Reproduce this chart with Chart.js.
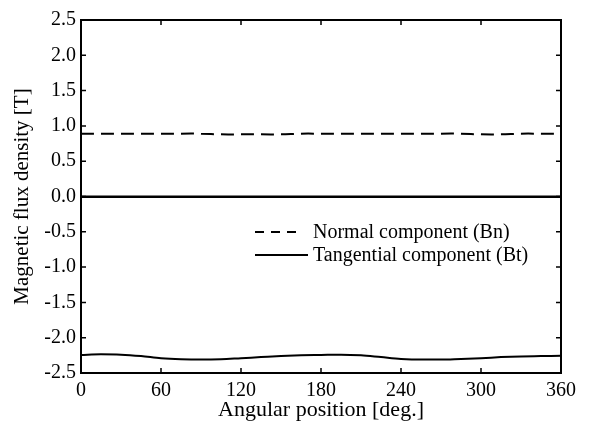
<!DOCTYPE html>
<html>
<head>
<meta charset="utf-8">
<script src="https://cdn.jsdelivr.net/npm/chart.js@4/dist/chart.umd.min.js"></script>
<style>
  body { margin: 0; background: #fff; }
  #wrap { width: 590px; height: 426px; }
</style>
</head>
<body>
<div id="wrap"><canvas id="fluxChart" width="590" height="426"></canvas></div>
<script>
// angular positions [deg.]
const angles = [0, 15, 30, 45, 60, 75, 90, 105, 120, 135, 150, 165, 180,
                195, 210, 225, 240, 255, 270, 285, 300, 315, 330, 345, 360];
// normal component (Bn) [T]
const normalBn = [0.89, 0.89, 0.89, 0.89, 0.89, 0.89, 0.89, 0.88, 0.88, 0.88, 0.88, 0.89, 0.89,
                  0.89, 0.89, 0.89, 0.89, 0.89, 0.89, 0.89, 0.88, 0.88, 0.89, 0.89, 0.89];
// tangential component (Bt) [T]
const tangentialBt = [0, 0, 0, 0, 0, 0, 0, 0, 0, 0, 0, 0, 0,
                      0, 0, 0, 0, 0, 0, 0, 0, 0, 0, 0, 0];
// lower solid trace near the bottom of the frame [T]
const lowerTrace = [-2.245, -2.235, -2.24, -2.26, -2.29, -2.305, -2.31, -2.305, -2.29, -2.275, -2.26, -2.25, -2.245,
                    -2.24, -2.25, -2.275, -2.30, -2.31, -2.31, -2.30, -2.29, -2.275, -2.265, -2.26, -2.255];
const xTicks = [0, 60, 120, 180, 240, 300, 360];
const yTicks = [-2.5, -2.0, -1.5, -1.0, -0.5, 0.0, 0.5, 1.0, 1.5, 2.0, 2.5];

const FONT = "'Liberation Serif', 'Times New Roman', serif";

function toPoints(ys) {
    return angles.map((a, i) => ({ x: a, y: ys[i] }));
}

// frame with inward ticks on all four sides
const framePlugin = {
    id: 'frame',
    afterDraw(chart) {
        const { ctx, chartArea: a, scales: { x, y } } = chart;
        const len = 5;
        ctx.save();
        ctx.strokeStyle = '#000';
        ctx.lineWidth = 2;
        ctx.strokeRect(a.left, a.top, a.right - a.left, a.bottom - a.top);
        ctx.lineWidth = 1.5;
        ctx.beginPath();
        xTicks.forEach(v => {
            const px = x.getPixelForValue(v);
            ctx.moveTo(px, a.bottom); ctx.lineTo(px, a.bottom - len);
            ctx.moveTo(px, a.top); ctx.lineTo(px, a.top + len);
        });
        yTicks.forEach(v => {
            const py = y.getPixelForValue(v);
            ctx.moveTo(a.left, py); ctx.lineTo(a.left + len, py);
            ctx.moveTo(a.right, py); ctx.lineTo(a.right - len, py);
        });
        ctx.stroke();
        ctx.restore();
    }
};

// legend inside the plot area
const legendPlugin = {
    id: 'insideLegend',
    afterDraw(chart) {
        const { ctx, chartArea: a } = chart;
        const x0 = a.left + 174;
        const rows = [
            { text: 'Normal component (Bn)', dash: [9, 7], y: a.top + 212, end: x0 + 48 },
            { text: 'Tangential component (Bt)', dash: [], y: a.top + 235, end: x0 + 53 }
        ];
        ctx.save();
        ctx.font = '20px ' + FONT;
        ctx.fillStyle = '#000';
        ctx.textBaseline = 'middle';
        rows.forEach(r => {
            ctx.strokeStyle = '#000';
            ctx.lineWidth = 2;
            ctx.setLineDash(r.dash);
            ctx.beginPath();
            ctx.moveTo(x0, r.y);
            ctx.lineTo(r.end, r.y);
            ctx.stroke();
            ctx.setLineDash([]);
            ctx.fillText(r.text, x0 + 58, r.y + 1);
        });
        ctx.restore();
    }
};

const ctx = document.getElementById('fluxChart').getContext('2d');
const fluxChart = new Chart(ctx, {
    type: 'line',
    data: {
        datasets: [
            {
                label: 'Normal component (Bn)',
                data: toPoints(normalBn),
                borderColor: '#000',
                borderWidth: 2,
                borderDash: [13, 7],
                pointRadius: 0,
                tension: 0.4
            },
            {
                label: 'Tangential component (Bt)',
                data: toPoints(tangentialBt),
                borderColor: '#000',
                borderWidth: 2,
                pointRadius: 0
            },
            {
                label: '',
                data: toPoints(lowerTrace),
                borderColor: '#000',
                borderWidth: 2,
                pointRadius: 0,
                cubicInterpolationMode: 'monotone'
            }
        ]
    },
    options: {
        responsive: false,
        animation: false,
        layout: { padding: { top: 20, right: 29, left: 0, bottom: 0 } },
        plugins: {
            legend: { display: false },
            tooltip: { enabled: false }
        },
        scales: {
            x: {
                type: 'linear',
                min: 0,
                max: 360,
                afterBuildTicks: s => { s.ticks = xTicks.map(v => ({ value: v })); },
                afterFit: s => { s.height = 53; },
                grid: { display: false, drawTicks: false },
                border: { display: false },
                ticks: {
                    padding: 6,
                    color: '#000',
                    font: { family: FONT, size: 20 },
                    maxRotation: 0
                },
                title: {
                    display: true,
                    text: 'Angular position [deg.]',
                    color: '#000',
                    font: { family: FONT, size: 22 },
                    padding: { top: 0, bottom: 3 }
                }
            },
            y: {
                min: -2.5,
                max: 2.5,
                afterBuildTicks: s => { s.ticks = yTicks.map(v => ({ value: v })); },
                afterFit: s => { s.width = 81; },
                grid: {
                    drawTicks: false,
                    color: c => (c.tick && c.tick.value === 0 ? '#000' : 'rgba(0,0,0,0)'),
                    lineWidth: 2
                },
                border: { display: false },
                ticks: {
                    padding: 5,
                    color: '#000',
                    font: { family: FONT, size: 20 },
                    callback: v => v.toFixed(1)
                },
                title: {
                    display: true,
                    text: 'Magnetic flux density [T]',
                    color: '#000',
                    font: { family: FONT, size: 21 },
                    padding: { top: 10, bottom: 0 }
                }
            }
        }
    },
    plugins: [framePlugin, legendPlugin]
});
</script>
</body>
</html>
